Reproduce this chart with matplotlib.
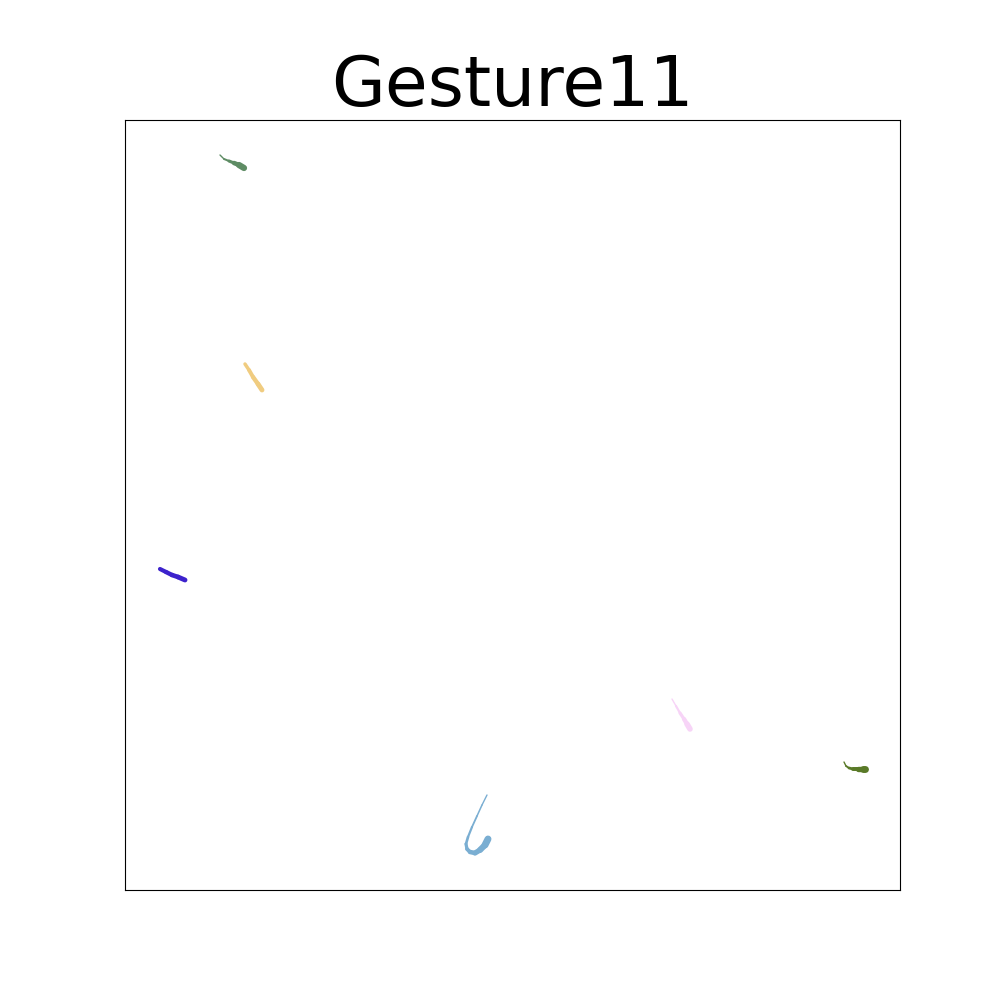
import numpy as np
import matplotlib.pyplot as plt
from matplotlib.collections import LineCollection

# Stroke paths (x, y)
stroke_x = [
    [220, 224, 229, 234, 239, 244],
    [245, 249, 253, 258, 262],
    [160, 166, 172, 178, 185],
    [487, 482, 477, 472, 468, 466, 467, 470, 475, 480, 485, 488],
    [672, 676, 680, 684, 687, 690],
    [844, 846, 849, 853, 858, 863, 865],
]
stroke_y = [
    [155, 159, 161, 163, 165, 168],
    [364, 370, 377, 384, 390],
    [569, 572, 575, 577, 580],
    [795, 805, 816, 827, 837, 844, 849, 852, 853, 850, 845, 839],
    [699, 706, 713, 719, 724, 729],
    [762, 766, 768, 769, 769, 769, 769],
]
stroke_colors = ["#5e8c64", "#f0cc80", "#3c22cc", "#7aaed2", "#f7d4f7", "#5a7a28"]
stroke_w0 = [1.0, 2.5, 3.0, 1.0, 1.0, 1.0]
stroke_w1 = [4.5, 3.5, 3.5, 5.0, 4.0, 5.0]
stroke_pow = [1.5, 1.0, 1.0, 1.6, 1.2, 1.5]

fig, ax = plt.subplots(figsize=(10, 10), dpi=100)

for xs, ys, c, w0, w1, p in zip(stroke_x, stroke_y, stroke_colors,
                                stroke_w0, stroke_w1, stroke_pow):
    pts = np.column_stack([xs, ys]).reshape(-1, 1, 2)
    segs = np.concatenate([pts[:-1], pts[1:]], axis=1)
    t = np.linspace(0, 1, len(segs)) ** p
    widths = w0 + (w1 - w0) * t
    lc = LineCollection(segs, colors=c, linewidths=widths, capstyle="round")
    ax.add_collection(lc)

ax.set_xlim(125, 900)
ax.set_ylim(890, 120)
ax.set_xticks([])
ax.set_yticks([])
ax.set_title("Gesture11", fontsize=50)

fig.savefig("out.png")
